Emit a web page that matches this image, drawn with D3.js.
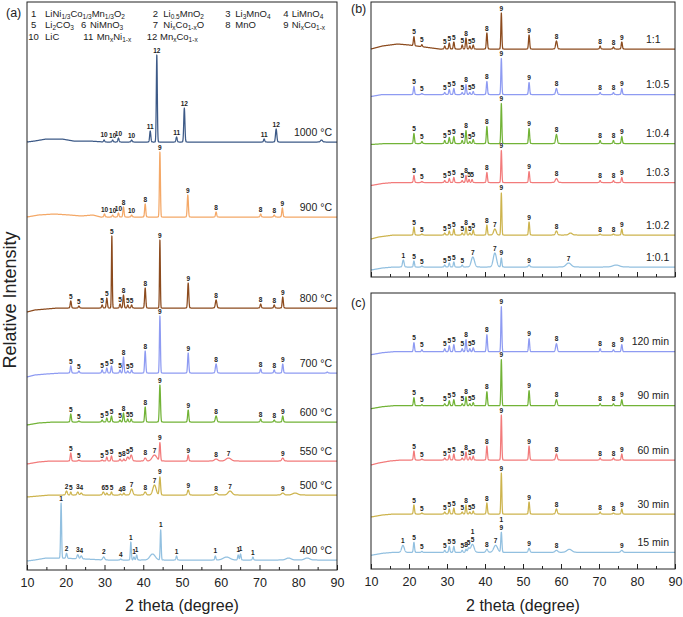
<!DOCTYPE html>
<html><head><meta charset="utf-8">
<script src="https://cdn.jsdelivr.net/npm/d3@7"></script>
<style>body{margin:0;background:#fff} text{font-family:Arial,"Liberation Sans",sans-serif}</style>
</head><body><svg id="c" width="683" height="617"></svg>
<script>
// ---------- DATA ----------
const xTicks = [10,20,30,40,50,60,70,80,90];
const minorTicks = [15,25,35,45,55,65,75,85];

// Legend (phase index -> formula)
const legendNums = ['1','2','3','4','5','6','7','8','9','10','11','12'];
const legendFormulas = ['LiNi_{1/3}Co_{1/3}Mn_{1/3}O_{2}','Li_{0.5}MnO_{2}','Li_{3}MnO_{4}','LiMnO_{4}',
  'Li_{2}CO_{3}','NiMnO_{3}','Ni_{x}Co_{1-x}O','MnO','Ni_{x}Co_{1-x}','LiC','Mn_{x}Ni_{1-x}','Mn_{x}Co_{1-x}'];

// Panel (a): calcination temperature
const namesA = ['1000 °C','900 °C','800 °C','700 °C','600 °C','550 °C','500 °C','400 °C'];
const offsetsA = [428,353,262,197,148,109,75,10];
const baseA = [
  [[10,0],[12,1],[15,3],[19,3],[22,1],[26,1],[30,0],[90,0]],
  [[10,0],[13,2],[17,3],[21,2],[24,1],[27,2],[29,0],[90,0]],
  [[10,-4],[12,-2],[15,-1],[18,0],[90,0]],
  [[10,-4],[12,-2],[15,-1],[19,0],[90,0]],
  [[10,-3],[13,-1],[17,0],[90,0]],
  [[10,-3],[13,-1],[16,0],[90,0]],
  [[10,-2],[13,-1],[16,0],[90,0]],
  [[10,-1],[12,0],[15,2],[18,2],[25,1],[30,0],[90,0]]
];
const peaksA = [
  [[29.9,2],[32.1,2],[33.6,4],[37.0,2],[41.8,11],[43.5,87,0.3],[48.6,5],[50.6,34],[71.2,3],[74.3,13,0.4],[86,2,0.6]],
  [[30.0,3],[32.1,2],[33.6,4],[34.9,10],[37.0,2],[40.5,13],[44.3,65,0.3],[51.5,22],[58.8,5],[70.3,3],[73.8,2],[75.9,9]],
  [[21.3,7],[23.4,2],[29.4,3],[30.6,10],[31.9,72,0.25],[34.0,4],[34.9,13],[36.0,3],[37.0,3],[40.5,20],[44.3,68,0.25],[51.6,25],[58.8,8,0.45],[70.3,4],[73.8,3],[76.0,11]],
  [[21.3,7],[23.4,2],[29.4,3],[30.6,5],[31.8,7],[34.0,3],[34.9,16],[36.0,2],[37.0,3],[40.5,22],[44.3,57,0.3],[51.6,20],[58.8,9,0.45],[70.3,4],[73.8,3],[76.0,9],[87.5,1]],
  [[21.3,8],[23.4,1],[29.4,2],[30.6,4],[31.8,6],[34.0,2],[34.9,9],[36.0,3],[36.9,3],[40.5,15],[44.3,37,0.35],[51.6,12],[58.8,6,0.5],[70.3,3],[73.8,2],[76.0,6]],
  [[21.3,8],[23.4,1],[29.4,1],[30.6,4],[31.8,5],[34.0,2],[35.0,2],[36.0,4,0.6],[36.9,6,0.6],[40.5,3,0.6],[42.9,6,1.4],[44.3,18,0.35],[51.6,6],[58.8,2,1],[62.0,3,1.5],[76.0,3,0.6]],
  [[20.2,4,0.5],[21.3,3],[23.1,3,0.5],[24.0,2,0.5],[29.7,3,0.5],[30.6,2],[31.8,3],[34.1,1],[35.0,2],[37.0,6,0.7],[40.5,3,0.6],[42.9,10,1.0],[44.3,18,0.4],[51.6,5,0.5],[58.8,2,0.8],[62.4,4,1.2],[76.0,2,0.8],[79.2,2,1.5]],
  [[18.8,55,0.3],[20.2,5,0.4],[23.1,4,0.5],[24.0,3,0.5],[29.8,3,0.6],[34.2,1],[36.8,18,0.3],[37.6,3],[38.3,5],[42.4,6,1.6],[44.5,30,0.3],[48.6,4],[58.6,4],[61.5,3,2],[64.5,5],[65.1,6],[68.3,3],[77.5,2,1.5],[82.3,2,1.5]]
];
const labelsA = [
  [[29.9,'10'],[32.1,'10'],[33.6,'10'],[37.0,'10'],[41.8,'11'],[43.5,'12'],[48.6,'11'],[50.6,'12'],[71.2,'11'],[74.3,'12']],
  [[30.0,'10'],[32.1,'10'],[33.6,'10'],[34.9,'8'],[37.0,'10'],[40.5,'8'],[44.3,'9'],[51.5,'9'],[58.8,'8'],[70.3,'8'],[73.8,'8'],[75.9,'9']],
  [[21.3,'5'],[23.4,'5'],[29.4,'5'],[30.6,'5'],[31.9,'5'],[34.0,'5'],[34.9,'8'],[36.0,'5'],[37.0,'5'],[40.5,'8'],[44.3,'9'],[51.6,'9'],[58.8,'8'],[70.3,'8'],[73.8,'8'],[76.0,'9']],
  [[21.3,'5'],[23.4,'5'],[29.4,'5'],[30.6,'5'],[31.8,'5'],[34.0,'5'],[34.9,'8'],[36.0,'5'],[37.0,'5'],[40.5,'8'],[44.3,'9'],[51.6,'9'],[58.8,'8'],[70.3,'8'],[73.8,'8'],[76.0,'9']],
  [[21.3,'5'],[23.4,'5'],[29.4,'5'],[30.6,'5'],[31.8,'5'],[34.0,'5'],[34.9,'8'],[36.0,'5'],[36.9,'5'],[40.5,'8'],[44.3,'9'],[51.6,'9'],[58.8,'8'],[70.3,'8'],[73.8,'8'],[76.0,'9']],
  [[21.3,'5'],[23.4,'5'],[29.4,'5'],[30.6,'5'],[31.8,'5'],[34.0,'5'],[35.0,'8'],[36.0,'5'],[36.9,'5'],[40.5,'8'],[42.9,'7'],[44.3,'9'],[51.6,'9'],[58.8,'8'],[62.0,'7'],[76.0,'9']],
  [[20.2,'2'],[21.3,'5'],[23.1,'3'],[24.0,'4'],[29.7,'6'],[30.6,'5'],[31.8,'5'],[34.1,'4'],[35.0,'8'],[37.0,'7'],[40.5,'8'],[42.9,'7'],[44.3,'9'],[51.6,'9'],[58.8,'8'],[62.4,'7'],[76.0,'9']],
  [[18.8,'1'],[20.2,'2'],[23.1,'3'],[24.0,'4'],[29.8,'2'],[34.2,'4'],[36.8,'1'],[37.6,'1'],[38.3,'1'],[44.5,'1'],[48.6,'1'],[58.6,'1'],[64.5,'1'],[65.1,'1'],[68.3,'1']]
];

// Panel (b): molar ratio
const namesB = ['1:1','1:0.5','1:0.4','1:0.3','1:0.2','1:0.1'];
const offsetsB = [228,182.5,133.5,94.5,42,10];
const baseB = [
  [[10,0],[13,3],[17,5],[20,4],[24,2],[28,0],[90,0]],
  [[10,-2],[13,0],[90,0]],
  [[10,-1],[14,0],[90,0]],
  [[10,-3],[13,-1],[16,0],[90,0]],
  [[10,-4],[12,-2],[16,0],[90,0]],
  [[10,-3],[13,-1],[16,0],[90,0]]
];
const peaksB = [
  [[21.3,9],[23.4,2],[29.4,3],[30.6,6],[31.8,7],[34.0,4],[35.0,11],[36.0,3],[36.9,4],[40.5,16],[44.3,36,0.3],[51.6,14],[58.8,8,0.5],[70.3,3],[73.8,2],[76.0,7]],
  [[21.3,8],[23.4,1],[29.4,2],[30.6,5],[31.8,6],[34.0,2],[35.0,10],[36.0,2],[36.9,3],[40.5,13],[44.3,36,0.3],[51.6,12],[58.8,6,0.5],[70.3,2],[73.8,2],[76.0,6]],
  [[21.3,10],[23.4,2],[29.4,3],[30.6,6],[31.8,7],[34.0,3],[35.0,13],[36.0,2],[36.9,4],[40.5,17],[44.3,40,0.3],[51.6,15],[58.8,9,0.5],[70.3,3],[73.8,3],[76.0,7]],
  [[21.3,7],[23.4,1],[29.4,2],[30.6,4],[31.8,5],[34.0,2],[35.0,7],[35.8,3],[36.6,3],[40.5,10],[44.3,32,0.3],[51.6,11],[58.8,4,0.7],[70.3,2],[73.8,2],[76.0,5]],
  [[21.3,8],[23.4,1],[29.4,2],[30.6,4],[31.8,6],[34.0,2],[35.0,8],[36.0,2],[36.9,5],[40.5,10],[42.6,6,0.8],[44.3,42,0.3],[51.6,13],[58.8,4,0.6],[62.5,2,1],[70.3,1],[73.8,1],[76.0,6]],
  [[18.5,7,0.5],[21.3,6],[23.4,1],[29.4,2],[30.6,4],[31.8,5],[34.0,2],[36.8,10,1.0],[42.6,14,1.0],[44.3,9,0.35],[51.6,2,0.5],[62.0,4,1.5],[74.5,2,2]]
];
const labelsStd = [[21.3,'5'],[23.4,'5'],[29.4,'5'],[30.6,'5'],[31.8,'5'],[34.0,'5'],[35.0,'8'],[36.0,'5'],[36.9,'5'],[40.5,'8'],[44.3,'9'],[51.6,'9'],[58.8,'8'],[70.3,'8'],[73.8,'8'],[76.0,'9']];
const labelsB = [
  labelsStd, labelsStd, labelsStd,
  [[21.3,'5'],[23.4,'5'],[29.4,'5'],[30.6,'5'],[31.8,'5'],[34.0,'5'],[35.0,'8'],[35.8,'5'],[36.6,'5'],[40.5,'8'],[44.3,'9'],[51.6,'9'],[58.8,'8'],[70.3,'8'],[73.8,'8'],[76.0,'9']],
  [[21.3,'5'],[23.4,'5'],[29.4,'5'],[30.6,'5'],[31.8,'5'],[34.0,'5'],[35.0,'8'],[36.0,'5'],[36.9,'5'],[40.5,'8'],[42.6,'7'],[44.3,'9'],[51.6,'9'],[58.8,'8'],[70.3,'8'],[73.8,'8'],[76.0,'9']],
  [[18.5,'1'],[21.3,'5'],[23.4,'5'],[29.4,'5'],[30.6,'5'],[31.8,'5'],[34.0,'5'],[36.8,'7'],[42.6,'7'],[44.3,'9'],[51.6,'9'],[62.0,'7']]
];

// Panel (c): holding time
const namesC = ['120 min','90 min','60 min','30 min','15 min'];
const offsetsC = [217.3,163.3,109,55,16.7];
const baseC = [
  [[10,-3],[13,-1],[16,0],[90,0]],
  [[10,-3],[13,-1],[16,0],[90,0]],
  [[10,-5],[12,-3],[15,-1],[18,0],[90,0]],
  [[10,-3],[13,-1],[16,0],[90,0]],
  [[10,-3],[13,-1],[16,0],[90,0]]
];
const peaksC = [
  [[21.3,9],[23.4,2],[29.4,3],[30.6,6],[31.8,7],[34.0,3],[35.0,12],[36.0,3],[36.9,4],[40.5,17],[44.3,45,0.3],[51.6,13],[58.8,8,0.5],[70.3,3],[73.8,2],[76.0,7]],
  [[21.3,8],[23.4,1],[29.4,2],[30.6,5],[31.8,6],[34.0,2],[35.0,9],[36.0,2],[36.9,3],[40.5,14],[44.3,46,0.3],[51.6,15],[58.8,6,0.5],[70.3,2],[73.8,2],[76.0,6]],
  [[21.3,9],[23.4,1],[29.4,2],[30.6,5],[31.8,6],[34.0,2],[35.0,8],[36.0,3],[36.9,4],[40.5,14],[44.3,45,0.3],[51.6,14],[58.8,6,0.5],[70.3,2],[73.8,2],[76.0,6]],
  [[21.3,9],[23.4,1],[29.4,2],[30.6,5],[31.8,6],[34.0,2],[35.0,9],[36.0,2],[36.9,3],[40.5,11],[44.3,41,0.3],[51.6,12],[58.8,5,0.5],[70.3,2],[73.8,1],[76.0,5]],
  [[18.4,7,0.8],[21.3,10],[23.4,1],[29.4,2],[30.6,6],[31.8,6],[34.0,2],[35.0,3],[35.7,4,0.6],[36.7,8,1.0],[40.5,3,0.6],[42.8,7,1.2],[44.3,20,0.35],[51.6,4,0.5],[58.8,2,0.8],[62.2,3,1.5],[76.0,2,0.6]]
];
const labelsC = [
  labelsStd, labelsStd, labelsStd, labelsStd,
  [[18.4,'1'],[21.3,'5'],[23.4,'5'],[29.4,'5'],[30.6,'5'],[31.8,'5'],[34.0,'5'],[35.0,'8'],[35.7,'5'],[36.7,'5'],[36.7,'1',1],[40.5,'8'],[42.8,'7'],[44.3,'9'],[44.3,'1',1],[51.6,'9'],[58.8,'8'],[76.0,'9']]
];

// ---------- STYLE / LAYOUT ----------
const C = {brown:'#8C4B1E', navy:'#3D5A87', orange:'#F4A867', lav:'#8E9BF2', green:'#72B337', red:'#F27B7B', mustard:'#CDB44E', lblue:'#92C0E0'};
const colorsA = [C.navy,C.orange,C.brown,C.lav,C.green,C.red,C.mustard,C.lblue];
const colorsB = [C.brown,C.lav,C.green,C.red,C.mustard,C.lblue];
const colorsC = [C.lav,C.green,C.red,C.mustard,C.lblue];

const svg = d3.select('#c');
const FW = 0.35;

function richText(sel, str, size, subSize){
  const parts = str.split(/(_\{[^}]*\})/).filter(s=>s.length);
  let shifted = false;
  parts.forEach(p=>{
    if (p.startsWith('_{')) {
      sel.append('tspan').attr('font-size',subSize).attr('dy',shifted?0:2).text(p.slice(2,-1));
      shifted = true;
    } else {
      sel.append('tspan').attr('font-size',size).attr('dy',shifted?-2:0).text(p);
      shifted = false;
    }
  });
}

function drawPanel(cfg){
  const x = d3.scaleLinear().domain([10,90]).range([cfg.left,cfg.right]);
  const y = d3.scaleLinear().domain([0,cfg.bottom-cfg.top]).range([cfg.bottom,cfg.top]);
  const g = svg.append('g');
  const line = d3.line().x(d=>x(d[0])).y(d=>y(d[1]));
  cfg.names.forEach((name,i)=>{
    const peaks = cfg.peaks[i], off = cfg.offsets[i];
    const bs = d3.scaleLinear().domain(cfg.base[i].map(d=>d[0])).range(cfg.base[i].map(d=>d[1]));
    const f = xv => {
      let v = off + bs(xv);
      for (const pk of peaks){ const w = pk[2]||FW; const dx=(xv-pk[0])/w; if (Math.abs(dx)<6) v += pk[1]*Math.exp(-2.7726*dx*dx); }
      return v;
    };
    const xs = d3.range(10,90.0001,0.04).concat(peaks.map(p=>p[0])).sort((a,b)=>a-b);
    const pts = xs.map(xv=>[xv,f(xv)]);
    g.append('path').attr('d',line(pts)).attr('fill','none').attr('stroke',cfg.colors[i]).attr('stroke-width',1.25).attr('stroke-linejoin','round');
    cfg.labels[i].forEach(l=>{
      let top = -Infinity;
      for (let t=l[0]-0.3; t<=l[0]+0.3; t+=0.02) top = Math.max(top,f(t));
      const lvl = l[2]||0;
      g.append('text').attr('x',x(l[0])).attr('y',y(top)-2.5-lvl*8).attr('text-anchor','middle')
        .attr('font-size',6.5).attr('font-weight','bold').attr('fill','#222').text(l[1]);
    });
    g.append('text').attr('x',cfg.nameX).attr('y',y(off)-10+3.5).attr('text-anchor',cfg.nameAnchor)
      .attr('font-size',10.5).attr('fill','#222').text(name);
  });
  g.append('rect').attr('x',cfg.left).attr('y',cfg.top).attr('width',cfg.right-cfg.left).attr('height',cfg.bottom-cfg.top)
    .attr('fill','none').attr('stroke','#222').attr('stroke-width',1);
  const ax = g.append('g').attr('transform',`translate(0,${cfg.bottom})`);
  ax.call(d3.axisBottom(x).tickValues(xTicks).tickSize(-5).tickPadding(8).tickFormat(cfg.showLabels?d3.format('d'):()=>''));
  ax.select('.domain').remove();
  ax.selectAll('text').attr('font-size',12.5).attr('fill','#222').attr('font-family','Arial,"Liberation Sans",sans-serif');
  if (!cfg.showLabels) ax.selectAll('text').remove();
  ax.selectAll('line').attr('stroke','#222');
  const mx = g.append('g').attr('transform',`translate(0,${cfg.bottom})`);
  mx.call(d3.axisBottom(x).tickValues(minorTicks).tickSize(-3).tickFormat(()=>''));
  mx.select('.domain').remove();
  mx.selectAll('text').remove();
  mx.selectAll('line').attr('stroke','#222');
  if (cfg.showLabels) {
    g.append('text').attr('x',(cfg.left+cfg.right)/2).attr('y',611).attr('text-anchor','middle')
      .attr('font-size',16).attr('fill','#222').text('2 theta (degree)');
  }
  g.append('text').attr('x',cfg.tagX).attr('y',cfg.tagY).attr('font-size',12.5).attr('fill','#222').text(cfg.tag);
  return {x,y};
}

drawPanel({left:27,right:337,top:2,bottom:570,names:namesA,offsets:offsetsA,base:baseA,peaks:peaksA,labels:labelsA,colors:colorsA,
  nameX:332,nameAnchor:'end',showLabels:true,tag:'(a)',tagX:6,tagY:17});
drawPanel({left:371,right:675,top:2,bottom:277,names:namesB,offsets:offsetsB,base:baseB,peaks:peaksB,labels:labelsB,colors:colorsB,
  nameX:646,nameAnchor:'start',showLabels:false,tag:'(b)',tagX:351,tagY:13});
drawPanel({left:371,right:675,top:293,bottom:569,names:namesC,offsets:offsetsC,base:baseC,peaks:peaksC,labels:labelsC,colors:colorsC,
  nameX:669,nameAnchor:'end',showLabels:true,tag:'(c)',tagX:351,tagY:307});

svg.append('text').attr('transform','translate(16,300) rotate(-90)').attr('text-anchor','middle')
  .attr('font-size',18).attr('fill','#222').text('Relative Intensity');

const legCols = [[31,45],[152.7,163.3],[225.3,235.3],[283.3,291.7],
                 [31,45],[81,90],[152.7,163.3],[225.3,235.3],[283.3,291.7],
                 [28.3,45],[83.3,96.7],[146.7,160]];
const legRows = [0,0,0,0,1,1,1,1,1,2,2,2];
const leg = svg.append('g');
legendNums.forEach((n,i)=>{
  const yy = 16.5 + legRows[i]*11.7;
  leg.append('text').attr('x',legCols[i][0]).attr('y',yy).attr('font-size',9.5).attr('fill','#222').text(n);
  const t = leg.append('text').attr('x',legCols[i][1]).attr('y',yy).attr('fill','#222').attr('font-size',9.5);
  richText(t, legendFormulas[i], 9.5, 6.5);
});
</script></body></html>
